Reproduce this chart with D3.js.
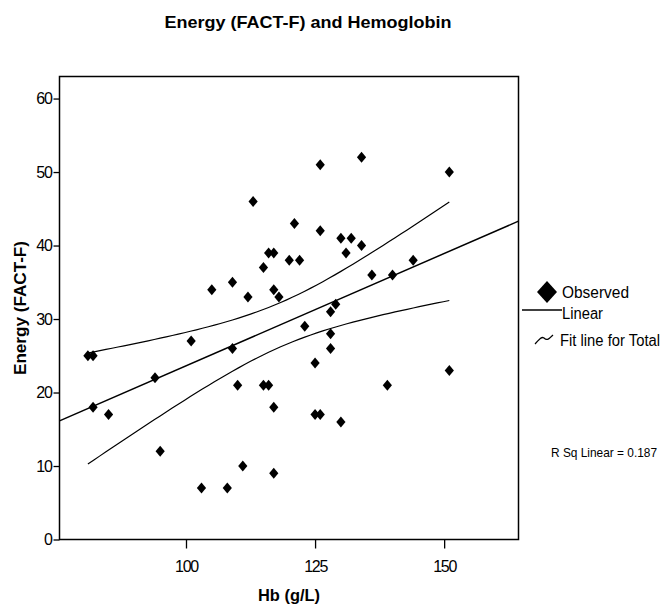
<!DOCTYPE html>
<html><head><meta charset="utf-8">
<script src="https://cdn.jsdelivr.net/npm/d3@7/dist/d3.min.js"></script>
<style>
body{margin:0;background:#fff}
svg{display:block}
text{font-family:"Liberation Sans",Arial,Helvetica,sans-serif;fill:#000}
</style>
</head><body>
<svg id="chart" width="667" height="610"></svg>
<script>
// ---- data ----
const hb = [81,82,82,85,94,95,101,103,105,108,
            109,109,110,111,112,113,115,115,116,116,
            117,117,117,117,118,120,121,122,123,125,
            125,126,126,126,128,128,128,129,130,130,
            131,132,134,134,136,139,140,144,151,151];
const energy = [25,25,18,17,22,12,27,7,34,7,
                35,26,21,10,33,46,37,21,39,21,
                39,34,18,9,33,38,43,38,29,24,
                17,51,42,17,31,28,26,32,41,16,
                39,41,52,40,36,21,36,38,50,23];
const xTicks = [100,125,150];
const yTicks = [0,10,20,30,40,50,60];
const xDomain = [75.5,164.4];
const yDomain = [0,63];
const T_CRIT = 2.0106;          // t(0.975, df = 48)
const rSqLabel = "R Sq Linear = 0.187";
const titleText = "Energy (FACT-F) and Hemoglobin";
const xTitle = "Hb (g/L)";
const yTitle = "Energy (FACT-F)";
const legendLabels = ["Observed","Linear","Fit line for Total"];

// ---- regression ----
const n = hb.length;
const xbar = d3.mean(hb), ybar = d3.mean(energy);
let sxx=0, sxy=0;
for(let i=0;i<n;i++){ sxx+=(hb[i]-xbar)**2; sxy+=(hb[i]-xbar)*(energy[i]-ybar); }
const slope = sxy/sxx, intercept = ybar - slope*xbar;
let sse=0; for(let i=0;i<n;i++){ sse += (energy[i]-intercept-slope*hb[i])**2; }
const s = Math.sqrt(sse/(n-2));
const fit = x => intercept + slope*x;
const half = x => T_CRIT*s*Math.sqrt(1/n + (x-xbar)**2/sxx);

// ---- layout ----
const L=59.5, R=518.5, T=76.5, B=539.5;
const svg = d3.select("#chart");
const x = d3.scaleLinear().domain(xDomain).range([L,R]);
const y = d3.scaleLinear().domain(yDomain).range([B,T]);

svg.append("defs").append("clipPath").attr("id","clip")
  .append("rect").attr("x",L).attr("y",T).attr("width",R-L).attr("height",B-T);

// title
svg.append("text").attr("x",308).attr("y",28).attr("text-anchor","middle")
  .attr("font-size",17).attr("font-weight","bold")
  .attr("textLength",287).attr("lengthAdjust","spacingAndGlyphs").text(titleText);

// axes
const xa = svg.append("g").attr("transform",`translate(0,${B})`)
  .call(d3.axisBottom(x).tickValues(xTicks).tickSize(9).tickPadding(12).tickFormat(d3.format("d")));
const ya = svg.append("g").attr("transform",`translate(${L},0)`)
  .call(d3.axisLeft(y).tickValues(yTicks).tickSize(6).tickPadding(2).tickFormat(d3.format("d")));
[xa,ya].forEach(g=>{
  g.select(".domain").remove();
  g.selectAll("line").attr("stroke","#000").attr("stroke-width",1.3);
  g.selectAll("text").attr("font-size",16).attr("letter-spacing","-1.3px")
    .attr("font-family",'"Liberation Sans",Arial,sans-serif').attr("fill","#000");
});

// frame
svg.append("rect").attr("x",L).attr("y",T).attr("width",R-L).attr("height",B-T)
  .attr("fill","none").attr("stroke","#000").attr("stroke-width",1.5);

// axis titles
svg.append("text").attr("x",(L+R)/2).attr("y",601).attr("text-anchor","middle")
  .attr("font-size",17).attr("font-weight","bold")
  .attr("textLength",62).attr("lengthAdjust","spacingAndGlyphs").text(xTitle);
svg.append("text").attr("transform",`translate(26,${(T+B)/2}) rotate(-90)`)
  .attr("text-anchor","middle").attr("font-size",17).attr("font-weight","bold")
  .attr("textLength",134).attr("lengthAdjust","spacingAndGlyphs").text(yTitle);

// fit line and confidence band
const plot = svg.append("g").attr("clip-path","url(#clip)");
const line = d3.line().x(d=>x(d[0])).y(d=>y(d[1]));
plot.append("path").datum(xDomain.map(v=>[v,fit(v)]))
  .attr("d",line).attr("fill","none").attr("stroke","#000").attr("stroke-width",1.5);
const [xmin,xmax] = d3.extent(hb);
const xs = d3.range(0,61).map(i=>xmin+(xmax-xmin)*i/60);
plot.append("path").datum(xs.map(v=>[v,fit(v)+half(v)]))
  .attr("d",line).attr("fill","none").attr("stroke","#000").attr("stroke-width",1.2);
plot.append("path").datum(xs.map(v=>[v,fit(v)-half(v)]))
  .attr("d",line).attr("fill","none").attr("stroke","#000").attr("stroke-width",1.2);

// points
const diamond = "M0,-5.5L4.6,0L0,5.5L-4.6,0Z";
plot.selectAll("path.pt").data(hb.map((h,i)=>[h,energy[i]])).join("path")
  .attr("class","pt").attr("d",diamond)
  .attr("transform",d=>`translate(${x(d[0])},${y(d[1])})`).attr("fill","#000");

// legend
const lg = svg.append("g");
lg.append("path").attr("d","M0,-11L10,0L0,11L-10,0Z").attr("transform","translate(547,292)").attr("fill","#000");
lg.append("text").attr("x",562).attr("y",298).attr("font-size",16)
  .attr("textLength",67).attr("lengthAdjust","spacingAndGlyphs").text(legendLabels[0]);
lg.append("line").attr("x1",522).attr("x2",562).attr("y1",310).attr("y2",310).attr("stroke","#000").attr("stroke-width",1.4);
lg.append("text").attr("x",562).attr("y",319).attr("font-size",16)
  .attr("textLength",41).attr("lengthAdjust","spacingAndGlyphs").text(legendLabels[1]);
lg.append("path").attr("d","M535,344 C539,340 541,336 544,338 C547,341 549,339 553,335")
  .attr("fill","none").attr("stroke","#000").attr("stroke-width",1.2);
lg.append("text").attr("x",560).attr("y",346).attr("font-size",16)
  .attr("textLength",100).attr("lengthAdjust","spacingAndGlyphs").text(legendLabels[2]);
svg.append("text").attr("x",551).attr("y",457).attr("font-size",13)
  .attr("textLength",106).attr("lengthAdjust","spacingAndGlyphs").text(rSqLabel);
</script>
</body></html>
